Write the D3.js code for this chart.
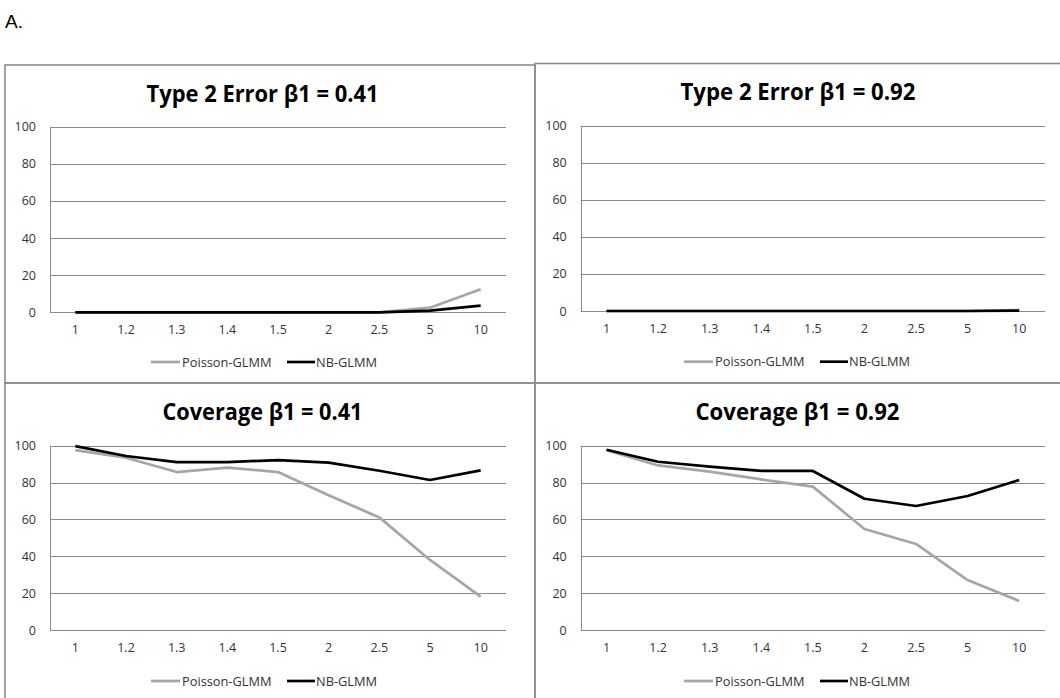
<!DOCTYPE html>
<html>
<head>
<meta charset="utf-8">
<script src="https://cdn.jsdelivr.net/npm/d3@7"></script>
<style>
  html, body { margin: 0; padding: 0; background: #fff; }
  svg { display: block; }
</style>
</head>
<body>
<svg id="chart" width="1060" height="698"></svg>
<script>
// ---- data ----
const categories = ["1", "1.2", "1.3", "1.4", "1.5", "2", "2.5", "5", "10"];
const yTicks = [0, 20, 40, 60, 80, 100];
const seriesNames = ["Poisson-GLMM", "NB-GLMM"];
const titles = ["Type 2 Error β1 = 0.41", "Type 2 Error β1 = 0.92", "Coverage β1 = 0.41", "Coverage β1 = 0.92"];

const type2_041_poisson = [0, 0, 0, 0, 0, 0, 0, 2.5, 12.4];
const type2_041_nb      = [0, 0, 0, 0, 0, 0, 0, 0.9, 3.6];
const type2_092_poisson = [0, 0, 0, 0, 0, 0, 0, 0, 0.5];
const type2_092_nb      = [0, 0, 0, 0, 0, 0, 0, 0, 0.2];
const cov_041_poisson   = [97.6, 93.5, 85.7, 88.1, 85.7, 73.1, 61.1, 38.0, 18.1];
const cov_041_nb        = [99.8, 94.4, 91.1, 91.1, 92.2, 90.8, 86.4, 81.4, 86.6];
const cov_092_poisson   = [97.6, 89.3, 85.9, 81.7, 77.8, 54.8, 46.7, 27.1, 15.7];
const cov_092_nb        = [97.8, 91.3, 88.6, 86.3, 86.3, 71.2, 67.3, 72.7, 81.4];

// ---- layout ----
const panels = [
  { title: titles[0], poisson: type2_041_poisson, nb: type2_041_nb,
    box: [5, 65, 535, 383], plot: [50, 126.7, 506, 312.3], titleX: 262.5, titleY: 101.5, titleW: 232, legendY: 362, legendX: 151 },
  { title: titles[1], poisson: type2_092_poisson, nb: type2_092_nb,
    box: [535, 63.5, 1070, 383], plot: [580.7, 125.7, 1045, 311], titleX: 798, titleY: 100, titleW: 235, legendY: 361.7, legendX: 684 },
  { title: titles[2], poisson: cov_041_poisson, nb: cov_041_nb,
    box: [5, 383, 535, 710], plot: [50, 445.7, 506, 630], titleX: 262.5, titleY: 419.5, titleW: 200, legendY: 681, legendX: 151 },
  { title: titles[3], poisson: cov_092_poisson, nb: cov_092_nb,
    box: [535, 383, 1070, 710], plot: [580.7, 445.7, 1045, 630], titleX: 797.5, titleY: 419.5, titleW: 204, legendY: 681, legendX: 684 }
];

const svg = d3.select("#chart");
const FONT = "'Open Sans', 'Noto Sans', sans-serif";

svg.append("text")
  .attr("x", 5).attr("y", 28)
  .attr("font-family", "'Liberation Sans', Arial, sans-serif")
  .attr("font-size", 19).attr("fill", "#000")
  .text("A.");

const colors = { poisson: "#a6a6a6", nb: "#000000" };

panels.forEach(p => {
  const g = svg.append("g");
  const [bx0, by0, bx1, by1] = p.box;
  g.append("rect")
    .attr("x", bx0).attr("y", by0)
    .attr("width", bx1 - bx0).attr("height", by1 - by0)
    .attr("fill", "none").attr("stroke", "#8c8c8c").attr("stroke-width", 1.6);

  const [px0, py0, px1, py1] = p.plot;
  const x = d3.scaleBand().domain(categories).range([px0, px1]).padding(0);
  const y = d3.scaleLinear().domain([0, 100]).range([py1, py0]);

  g.append("g").selectAll("line").data(yTicks).join("line")
    .attr("x1", px0).attr("x2", px1)
    .attr("y1", d => Math.round(y(d)) + 0.5).attr("y2", d => Math.round(y(d)) + 0.5)
    .attr("stroke", "#8a8a8a").attr("stroke-width", 1);
  g.append("line")
    .attr("x1", Math.round(px0) + 0.5).attr("x2", Math.round(px0) + 0.5)
    .attr("y1", y(100)).attr("y2", y(0))
    .attr("stroke", "#8a8a8a").attr("stroke-width", 1);

  const yAxis = d3.axisLeft(y).tickValues(yTicks).tickSize(0).tickPadding(14);
  const ya = g.append("g").attr("transform", `translate(${px0},0)`).call(yAxis);
  ya.select(".domain").remove();
  ya.selectAll("text").attr("font-family", FONT).attr("font-size", 12.5).attr("fill", "#333");

  const xAxis = d3.axisBottom(x).tickSize(0).tickPadding(13);
  const xa = g.append("g").attr("transform", `translate(0,${py1})`).call(xAxis);
  xa.select(".domain").remove();
  xa.selectAll("text").attr("font-family", FONT).attr("font-size", 12.5).attr("fill", "#333");

  const line = d3.line()
    .x((d, i) => x(categories[i]) + x.bandwidth() / 2)
    .y(d => y(d));
  g.append("path").datum(p.poisson)
    .attr("d", line).attr("fill", "none")
    .attr("stroke", colors.poisson).attr("stroke-width", 2.7).attr("stroke-linejoin", "round");
  g.append("path").datum(p.nb)
    .attr("d", line).attr("fill", "none")
    .attr("stroke", colors.nb).attr("stroke-width", 2.7).attr("stroke-linejoin", "round");

  g.append("text")
    .attr("x", p.titleX).attr("y", p.titleY)
    .attr("text-anchor", "middle")
    .attr("font-family", FONT).attr("font-weight", "bold")
    .attr("font-size", 23).attr("fill", "#000")
    .attr("textLength", p.titleW).attr("lengthAdjust", "spacingAndGlyphs")
    .text(p.title);

  const lg = g.append("g").attr("transform", `translate(${p.legendX},${p.legendY})`);
  lg.append("line").attr("x1", 0).attr("x2", 29).attr("y1", 0).attr("y2", 0)
    .attr("stroke", colors.poisson).attr("stroke-width", 2.7);
  lg.append("text").attr("x", 31).attr("y", 4.5)
    .attr("font-family", FONT).attr("font-size", 12.8).attr("fill", "#333")
    .text(seriesNames[0]);
  lg.append("line").attr("x1", 136).attr("x2", 164).attr("y1", 0).attr("y2", 0)
    .attr("stroke", colors.nb).attr("stroke-width", 2.7);
  lg.append("text").attr("x", 165).attr("y", 4.5)
    .attr("font-family", FONT).attr("font-size", 12.8).attr("fill", "#333")
    .text(seriesNames[1]);
});
</script>
</body>
</html>
